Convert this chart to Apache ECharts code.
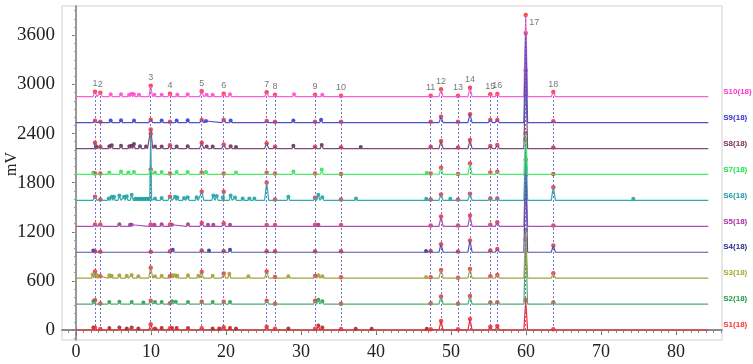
<!DOCTYPE html>
<html>
<head>
<meta charset="utf-8">
<script src="https://cdn.jsdelivr.net/npm/echarts@6/dist/echarts.min.js"></script>
<style>
  html, body { margin: 0; padding: 0; background: #fff; }
  #chart { width: 753px; height: 364px; }
</style>
</head>
<body>
<div id="chart"></div>
<script>
// retention times (min) of the 18 common peaks
const PEAK_NO = ['1', '2', '3', '4', '5', '6', '7', '8', '9', '10', '11', '12', '13', '14', '15', '16', '17', '18']
const PEAK_RT = [2.53, 3.24, 9.96, 12.53, 16.76, 19.69, 25.42, 26.53, 31.87, 35.33, 47.29, 48.67, 50.93, 52.53, 55.24, 56.17, 59.96, 63.64]

const SAMPLES = ['S1(18)', 'S2(18)', 'S3(18)', 'S4(18)', 'S5(18)', 'S6(18)', 'S7(18)', 'S8(18)', 'S9(18)', 'S10(18)']
// vertical offset of each chromatogram (mV)
const BASELINES = [0, 316, 633, 950, 1266, 1583, 1900, 2216, 2533, 2850]

// peak heights above baseline (mV), one row per sample, columns follow PEAK_RT
const H_S1 = [28, 12, 70, 21, 21, 33, 40, 16, 16, 12, 9, 110, 9, 134, 40, 49, 366, 9]
const H_S2 = [49, 8, 40, 12, 28, 28, 40, 5, 40, 5, 12, 93, 5, 101, 20, 24, 790, 20]
const H_S3 = [81, 24, 129, 24, 77, 56, 81, 16, 28, 12, 12, 101, 6, 113, 24, 40, 590, 61]
const H_S4 = [12, 6, 6, 12, 20, 16, 12, 12, 12, 12, 16, 98, 9, 142, 20, 40, 945, 81]
const H_S5 = [24, 24, 24, 24, 42, 37, 17, 17, 21, 17, 12, 122, 12, 134, 21, 49, 815, 12]
const H_S6 = [45, 12, 814, 45, 106, 106, 220, 12, 33, 12, 12, 73, 12, 82, 24, 24, 745, 162]
const H_S7 = [12, 12, 61, 12, 24, 12, 20, 12, 12, 6, 12, 81, 5, 134, 24, 32, 505, 5]
const H_S8 = [73, 24, 232, 40, 73, 49, 65, 24, 24, 16, 24, 93, 12, 105, 32, 44, 957, 12]
const H_S9 = [24, 12, 37, 12, 33, 33, 21, 12, 12, 12, 12, 73, 12, 103, 33, 33, 1096, 17]
const H_S10 = [61, 49, 134, 37, 66, 37, 54, 24, 24, 12, 12, 90, 12, 110, 29, 33, 998, 57]
const HEIGHTS = [H_S1, H_S2, H_S3, H_S4, H_S5, H_S6, H_S7, H_S8, H_S9, H_S10]

// other (non-common) peaks: [rt, height mV]
const X_S1 = [[2.31, 30], [4.44, 25], [5.78, 30], [6.76, 20], [7.42, 30], [8.31, 20], [10.53, 20], [11.42, 25], [12.8, 25], [13.42, 25], [14.93, 25], [18.22, 20], [19.1, 20], [20.53, 25], [21.33, 20], [28.31, 20], [32.31, 55], [32.84, 30], [37.29, 15], [39.42, 15], [46.76, 15]]
const X_S2 = [[2.31, 35], [4.44, 25], [5.78, 30], [7.42, 25], [8.98, 20], [10.53, 25], [11.42, 25], [12.8, 35], [13.3, 30], [14.93, 25], [18.22, 25], [20.53, 25], [32.31, 55], [32.84, 35]]
const X_S3 = [[2.22, 45], [2.76, 40], [4.44, 35], [4.76, 30], [5.78, 35], [6.76, 30], [7.42, 40], [8.31, 25], [10.53, 25], [11.42, 30], [12.8, 40], [13.2, 35], [13.51, 30], [14.93, 35], [16.31, 30], [18.22, 30], [20.44, 55], [22.98, 25], [28.31, 25], [32.31, 35], [32.84, 25], [46.67, 15]]
const X_S4 = [[2.31, 20], [12.9, 30], [17.73, 20], [20.53, 30], [46.67, 15]]
const X_S5 = [[5.78, 25], [7.2, 20], [7.42, 20], [10.45, 20], [11.42, 25], [12.8, 20], [14.93, 25], [17.6, 20], [18.31, 20], [20.53, 20], [32.31, 20]]
const X_S6 = [[4.36, 25], [4.76, 45], [5.07, 45], [5.78, 60], [6.4, 45], [6.76, 50], [7.42, 70], [7.87, 20], [8.18, 20], [8.49, 20], [8.8, 20], [9.11, 20], [9.42, 20], [9.7, 20], [10.53, 25], [11.42, 30], [13.2, 45], [13.51, 35], [14.4, 30], [14.89, 40], [16.09, 40], [18.31, 60], [18.76, 55], [19.56, 35], [20.62, 60], [21.2, 35], [22.22, 25], [23.11, 25], [23.78, 25], [28.31, 45], [32.31, 70], [32.84, 40], [37.33, 25], [46.7, 20], [49.9, 20], [74.3, 20]]
const X_S7 = [[2.31, 25], [4.44, 25], [6.0, 35], [6.98, 25], [7.73, 30], [10.53, 25], [11.42, 30], [13.42, 30], [14.89, 30], [17.33, 30], [21.33, 25], [28.98, 35], [32.76, 60], [46.76, 20]]
const X_S8 = [[2.67, 30], [4.44, 30], [4.76, 40], [6.0, 35], [7.11, 30], [7.42, 35], [7.73, 55], [8.53, 30], [9.33, 25], [10.53, 25], [11.42, 25], [13.42, 25], [14.89, 30], [17.42, 25], [18.22, 25], [20.62, 30], [21.33, 20], [28.98, 35], [32.76, 45], [37.96, 20]]
const X_S9 = [[4.62, 25], [6.0, 30], [7.73, 25], [11.42, 25], [13.42, 25], [14.89, 30], [17.33, 20], [20.62, 25], [28.98, 25], [32.67, 35]]
const X_S10 = [[4.62, 30], [6.0, 30], [7.07, 25], [7.42, 35], [7.73, 30], [8.4, 25], [10.45, 25], [11.42, 25], [13.51, 25], [14.89, 30], [17.42, 25], [18.22, 25], [20.53, 30], [29.07, 30], [32.84, 25]]
const EXTRAS = [X_S1, X_S2, X_S3, X_S4, X_S5, X_S6, X_S7, X_S8, X_S9, X_S10]

const RUN_END = 84.3
const TICK_X = [0, 10, 20, 30, 40, 50, 60, 70, 80]
const TICK_Y = [0, 600, 1200, 1800, 2400, 3000, 3600]

const LINE_COLORS = ['#ff2626', '#4fae72', '#a3a342', '#5252aa', '#b04fb0', '#35a9a9', '#45ec68', '#7c4c72', '#5050c4', '#ff5fd0']
const TEXT_COLORS = ['#ff3333', '#1e9a45', '#a8a832', '#2b2b8c', '#a832a8', '#1a99a8', '#22e044', '#7a2a5a', '#3434cc', '#ff33cc']
const DOT_COLORS = ['#8c1414', '#128a36', '#9a9a1e', '#1c1c84', '#86228a', '#009a9a', '#22d844', '#4a1848', '#2222cc', '#ff33cc']
// later entries are painted on top
const DRAW_ORDER = [9, 7, 8, 4, 5, 6, 3, 1, 2, 0]

const chart = echarts.init(document.getElementById('chart'))

function peaksOf(i) {
  const list = PEAK_RT.map((rt, k) => ({ rt, h: HEIGHTS[i][k], k }))
  EXTRAS[i].forEach(([rt, h]) => list.push({ rt, h, k: -1 }))
  return list.sort((a, b) => a.rt - b.rt)
}

function traceData(i) {
  const base = BASELINES[i]
  const list = peaksOf(i)
  const pts = [[0, base]]
  list.forEach((p, j) => {
    let hw = p.k === 16 ? 0.25 : p.k >= 0 ? 0.28 : 0.2
    const prev = j > 0 ? list[j - 1].rt : -Infinity
    const next = j < list.length - 1 ? list[j + 1].rt : Infinity
    hw = Math.min(hw, (p.rt - prev) / 2 - 0.01, (next - p.rt) / 2 - 0.01)
    pts.push([p.rt - hw, base], [p.rt, base + p.h], [p.rt + hw, base])
  })
  pts.push([RUN_END, base])
  return pts
}

const top10 = PEAK_RT.map((rt, k) => BASELINES[9] + HEIGHTS[9][k])

const series = []

DRAW_ORDER.forEach((i, n) => {
  const s = {
    name: SAMPLES[i],
    type: 'line',
    data: traceData(i),
    showSymbol: false,
    silent: true,
    lineStyle: { width: 1.2, color: LINE_COLORS[i] },
    endLabel: {
      show: true,
      formatter: SAMPLES[i],
      color: TEXT_COLORS[i],
      fontSize: 8,
      fontWeight: 'bold',
      fontFamily: 'Liberation Sans',
      distance: 15,
      offset: [0, -5],
    },
  }
  if (n === DRAW_ORDER.length - 1) {
    s.markLine = {
      silent: true,
      symbol: ['none', 'none'],
      label: { show: false },
      lineStyle: { color: '#7272d6', type: [2, 2], width: 1 },
      data: PEAK_RT.map((rt, k) => [{ coord: [rt, 0] }, { coord: [rt, top10[k]] }]),
    }
  }
  series.push(s)
})

// small peaks of each sample, in the sample colour
SAMPLES.forEach((name, i) => {
  series.push({
    type: 'scatter',
    silent: true,
    symbolSize: 4,
    itemStyle: { color: DOT_COLORS[i] },
    data: EXTRAS[i].map(([rt, h]) => [rt, BASELINES[i] + h]),
  })
})

// common peaks, red markers
series.push({
  type: 'scatter',
  silent: true,
  symbolSize: 4.5,
  itemStyle: { color: '#ff1a1a' },
  data: SAMPLES.flatMap((name, i) => PEAK_RT.map((rt, k) => [rt, BASELINES[i] + HEIGHTS[i][k]])),
})

// peak numbers above S10
series.push({
  type: 'scatter',
  silent: true,
  symbolSize: 1,
  itemStyle: { color: 'rgba(0,0,0,0)' },
  label: {
    show: true,
    position: 'top',
    distance: 3,
    color: '#555',
    fontSize: 9,
    fontFamily: 'Liberation Sans',
    formatter: (p) => PEAK_NO[p.dataIndex],
  },
  data: PEAK_RT.map((rt, k) => ({
    value: [rt, top10[k]],
    label: k === 16 ? { position: 'right', distance: 3, offset: [0, 8] } : undefined,
  })),
})

const xMinor = []
for (let v = -1; v <= 86; v += 1) xMinor.push(v)
const yMinor = []
for (let v = -100; v <= 3900; v += 100) yMinor.push(v)

chart.setOption({
  animation: false,
  grid: {
    left: 62, right: 31, top: 6, bottom: 24,
    outerBoundsMode: 'none',
    show: true, borderColor: '#cfcfcf', borderWidth: 1,
  },
  xAxis: [
    {
      type: 'value',
      min: -1.87,
      max: 86.13,
      splitLine: { show: false },
      axisLine: { lineStyle: { color: '#666', width: 1.5 } },
      axisTick: { customValues: TICK_X, length: 5, lineStyle: { color: '#666' } },
      axisLabel: {
        customValues: TICK_X,
        color: '#222',
        fontSize: 18,
        fontFamily: 'Liberation Serif',
        margin: 3,
      },
    },
    {
      type: 'value',
      min: -1.87,
      max: 86.13,
      position: 'bottom',
      splitLine: { show: false },
      axisLine: { show: false },
      axisTick: { customValues: xMinor, length: 3, lineStyle: { color: '#888' } },
      axisLabel: { show: false },
    },
  ],
  yAxis: [
    {
      type: 'value',
      min: -122,
      max: 3958,
      name: 'mV',
      nameLocation: 'middle',
      nameGap: 42,
      nameMoveOverlap: false,
      nameTextStyle: { color: '#222', fontSize: 16, fontFamily: 'Liberation Serif', padding: [0, 0, 0, 18] },
      splitLine: { show: false },
      axisLine: { show: true, lineStyle: { color: '#777', width: 1.5 } },
      axisTick: { show: true, customValues: TICK_Y, length: 4, lineStyle: { color: '#777' } },
      axisLabel: {
        customValues: TICK_Y,
        formatter: (v) => String(v),
        color: '#222',
        fontSize: 19,
        fontFamily: 'Liberation Serif',
        margin: 7,
      },
    },
    {
      type: 'value',
      min: -122,
      max: 3958,
      position: 'left',
      splitLine: { show: false },
      axisLine: { show: false },
      axisTick: { show: true, customValues: yMinor, length: 2, lineStyle: { color: '#999' } },
      axisLabel: { show: false },
    },
  ],
  series,
})
</script>
</body>
</html>
